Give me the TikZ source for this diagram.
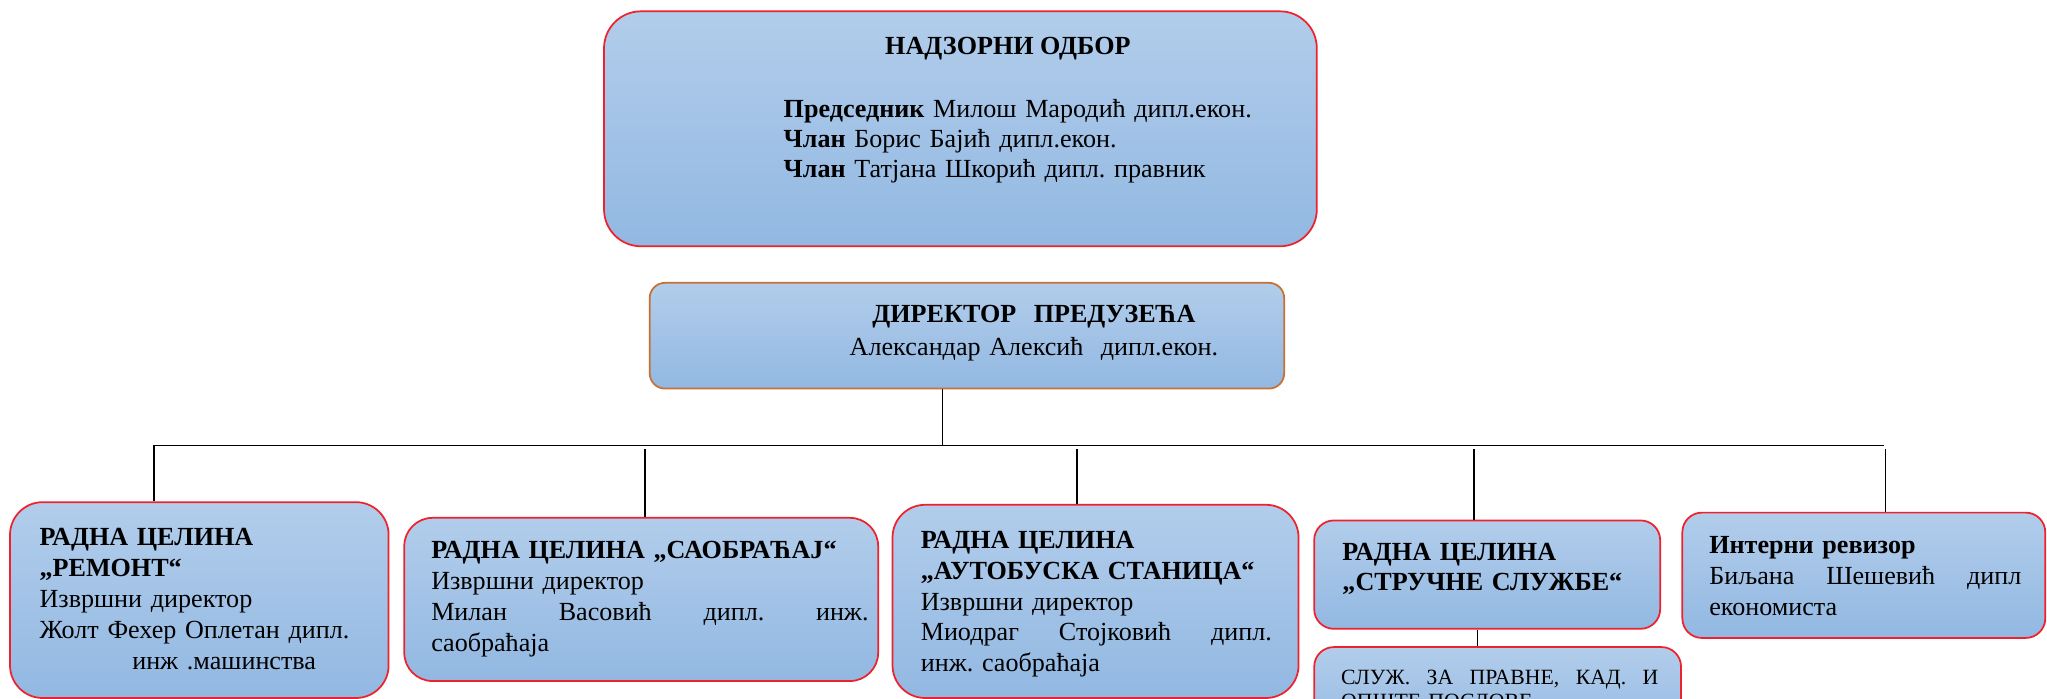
\documentclass[tikz,border=0pt]{standalone}
\usepackage{fontspec}
\setmainfont{Liberation Serif}
\usetikzlibrary{positioning}
\definecolor{boxtop}{RGB}{178,205,235}
\definecolor{boxbot}{RGB}{146,184,226}
\definecolor{boxred}{RGB}{238,34,44}
\definecolor{dirline}{RGB}{200,112,52}
\newcommand{\spreadline}[2]{\leavevmode\hbox to #1{#2}}
\frenchspacing

\begin{document}
\begin{tikzpicture}[x=0.6pt,y=-0.6pt,
  unitbox/.style={draw=boxred,line width=0.8pt,top color=boxtop,bottom color=boxbot,anchor=north west,inner sep=0pt,rounded corners=9pt},
  txt/.style={anchor=base west,inner sep=0pt,align=left,text width=#1,font=\fontsize{12}{14.2}\selectfont},
  txt/.default=160pt,
  link/.style={draw=black,line width=0.6pt}]
\useasboundingbox (0,0) rectangle (1568,535);
% boxes
\node[unitbox,rounded corners=17pt,minimum width=327.6pt,minimum height=108pt] (nadzor) at (462,8) {};
\node[unitbox,draw=dirline,rounded corners=7pt,minimum width=291.6pt,minimum height=48.6pt] (direktor) at (497,216) {};
\node[unitbox,rounded corners=15pt,minimum width=174pt,minimum height=90pt] (remont) at (7,384) {};
\node[unitbox,rounded corners=13pt,minimum width=217.8pt,minimum height=75pt] (saobracaj) at (309,396) {};
\node[unitbox,rounded corners=15pt,minimum width=186.6pt,minimum height=88.8pt] (stanica) at (683,386) {};
\node[unitbox,minimum width=159pt,minimum height=49.8pt] (sluzbe) at (1006,398) {};
\node[unitbox,minimum width=166.8pt,minimum height=57.6pt] (revizor) at (1288,392) {};
\node[unitbox,minimum width=168.6pt,minimum height=45pt] (pravne) at (1006,495) {};
% texts
\node[anchor=base,inner sep=0pt,font=\fontsize{12}{14.2}\selectfont\bfseries] (nadzor-t) at (772,42) {НАДЗОРНИ ОДБОР};
\node[txt=240pt,font=\fontsize{12}{13.8}\selectfont] (nadzor-c) at (600,90)
  {\textbf{Председник} Милош Мародић дипл.екон.\\ \textbf{Члан} Борис Бајић дипл.екон.\\ \textbf{Члан} Татјана Шкорић дипл. правник};
\node[txt=200pt,anchor=base,align=center,font=\fontsize{12}{15}\selectfont] (direktor-t) at (792,247)
  {\textbf{ДИРЕКТОР\ \ ПРЕДУЗЕЋА}\\ Александар Алексић\ \ дипл.екон.};
\node[txt] (remont-t) at (30,418)
  {\textbf{РАДНА ЦЕЛИНА}\\ \textbf{„РЕМОНТ“}\\ Извршни директор\\ Жолт Фехер Оплетан дипл.\\ \hspace*{42.6pt}инж .машинства};
\node[txt=210pt] (saobracaj-t) at (330,428)
  {\textbf{РАДНА ЦЕЛИНА „САОБРАЋАЈ“}\\ Извршни директор\\ \spreadline{201pt}{Милан\hfill Васовић\hfill дипл.\hfill инж.}\\ саобраћаја};
\node[txt=170pt] (stanica-t) at (705,420)
  {\textbf{РАДНА ЦЕЛИНА}\\ \textbf{„АУТОБУСКА СТАНИЦА“}\\ Извршни директор\\ \spreadline{161.4pt}{Миодраг\hfill Стојковић\hfill дипл.}\\ инж. саобраћаја};
\node[txt=150pt] (sluzbe-t) at (1028,429)
  {\textbf{РАДНА ЦЕЛИНА}\\ \textbf{„СТРУЧНЕ СЛУЖБЕ“}};
\node[txt=150pt] (revizor-t) at (1309,424)
  {\textbf{Интерни ревизор}\\ \spreadline{143.4pt}{Биљана\hfill Шешевић\hfill дипл}\\ економиста};
\node[txt=150pt,font=\fontsize{10}{11.4}\selectfont] (pravne-t) at (1027,524)
  {\spreadline{145.8pt}{СЛУЖ.\hfill ЗА\hfill ПРАВНЕ,\hfill КАД.\hfill И}\\ ОПШТЕ ПОСЛОВЕ};
% connectors
\coordinate (bus) at (722,341);
\coordinate (busL) at (118,341);
\coordinate (busR) at (1443,341);
\coordinate (d2) at (494,344);
\coordinate (d3) at (825,344);
\coordinate (d4) at (1129,344);
\coordinate (d5) at (1444,344);
\coordinate (d6) at (1132,481);
\draw[link] (direktor.south -| bus) -- (bus);
\draw[link] (busL) -- (busR);
\draw[link] (busL) -- (busL |- remont.north);
\draw[link] (d2) -- (d2 |- saobracaj.north);
\draw[link] (d3) -- (d3 |- stanica.north);
\draw[link] (d4) -- (d4 |- sluzbe.north);
\draw[link] (d5) -- (d5 |- revizor.north);
\draw[link] (sluzbe.south -| d6) -- (pravne.north -| d6);
\end{tikzpicture}
\end{document}
